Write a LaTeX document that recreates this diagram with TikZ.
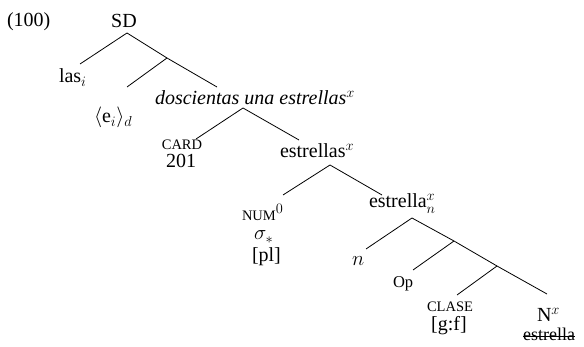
\documentclass[tikz,border=0pt]{standalone}
\usepackage{fontspec}
\setmainfont{Liberation Serif}
\begin{document}
\begin{tikzpicture}[x=1pt,y=-1pt,
  lbl/.style={inner sep=0pt,outer sep=0pt,font=\fontsize{20}{22}\selectfont},
  sm/.style={inner sep=0pt,outer sep=0pt,font=\fontsize{14.5}{16}\selectfont},
  op/.style={inner sep=0pt,outer sep=0pt,font=\fontsize{16.5}{18}\selectfont},
  del/.style={inner sep=0pt,outer sep=0pt,font=\fontsize{18}{20}\selectfont},
  br/.style={line width=0.8pt},
  strike/.style={line width=0.7pt}]
\useasboundingbox (0,0) rectangle (584,347);
% labels
\node[lbl,anchor=base west] (ex) at (7,27) {(100)};
\node[lbl,anchor=base] (sd) at (124,28) {SD};
\node[lbl,anchor=base west] (las) at (59,83) {las$_i$};
\node[lbl,anchor=base west] (ei) at (94,123) {$\langle\mathrm{e}_i\rangle_d$};
\node[lbl,anchor=base west] (dosc) at (155,105) {\itshape doscientas una estrellas$^x$};
\node[sm,anchor=base] (card) at (182,150) {CARD};
\node[lbl,anchor=base] (n201) at (181,168) {201};
\node[lbl,anchor=base west] (estrs) at (280,158) {estrellas$^x$};
\node[sm,anchor=base west] (num) at (242,221) {NUM{\fontsize{19.5}{22}\selectfont$^0$}};
\node[lbl,anchor=base west] (sigma) at (254,240) {$\sigma_*$};
\node[lbl,anchor=base west] (pl) at (252,262) {[pl]};
\node[lbl,anchor=base west] (estrn) at (369,208) {estrella$^x_n$};
\node[lbl,anchor=base west] (nn) at (352,266) {$n$};
\node[op,anchor=base west] (opn) at (393,288) {Op};
\node[sm,anchor=base] (clase) at (450,312) {CLASE};
\node[lbl,anchor=base] (gf) at (449,331) {[g:f]};
\node[lbl,anchor=base west] (nx) at (537,322) {N$^x$};
\node[del,anchor=base] (strk) at (549,341) {estrella};
\draw[strike] ([yshift=4.2pt]strk.base west) -- ([yshift=4.2pt]strk.base east);
% branch points
\coordinate (r) at (127,33);
\coordinate (a1) at (167,58);
\coordinate (b) at (243,108);
\coordinate (c) at (330,165);
\coordinate (d) at (412,218);
\coordinate (e1) at (454,241);
\coordinate (e2) at (497,266);
% line ends
\coordinate (tlas) at (80,64);
\coordinate (tei) at (127,87);
\coordinate (tdosc) at (217,87);
\coordinate (tcard) at (196,139);
\coordinate (testrs) at (299,140);
\coordinate (tnum) at (283,195);
\coordinate (testrn) at (382,195);
\coordinate (tn) at (366,249);
\coordinate (top) at (413,270);
\coordinate (tclase) at (457,295);
\coordinate (tnx) at (547,294);
% connectors
\draw[br] (tlas) -- (r) -- (a1) -- (tdosc);
\draw[br] (a1) -- (tei);
\draw[br] (tcard) -- (b) -- (testrs);
\draw[br] (tnum) -- (c) -- (testrn);
\draw[br] (tn) -- (d) -- (e1) -- (e2) -- (tnx);
\draw[br] (e1) -- (top);
\draw[br] (e2) -- (tclase);
\end{tikzpicture}
\end{document}
